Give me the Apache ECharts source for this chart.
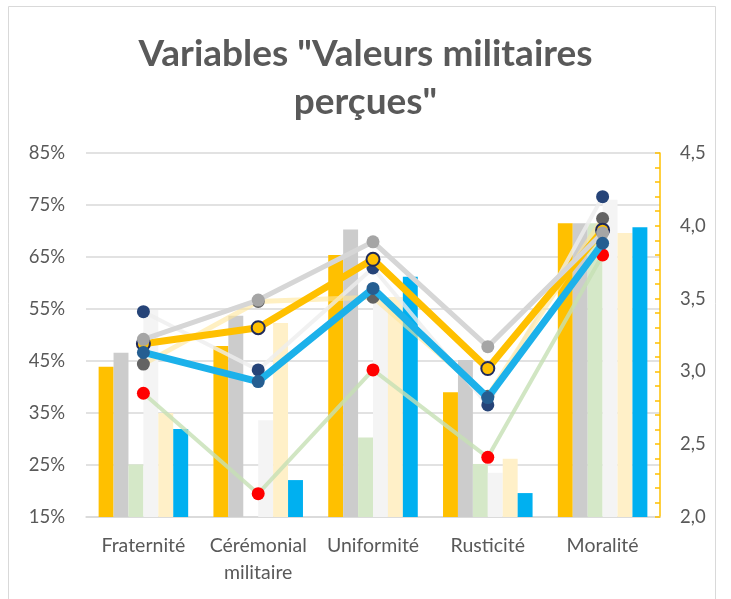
<!DOCTYPE html>
<html>
<head>
<meta charset="utf-8">
<script src="https://cdn.jsdelivr.net/npm/echarts@6/dist/echarts.min.js"></script>
<style>
  html, body { margin: 0; padding: 0; background: #fff; }
  #main { width: 731px; height: 599px; }
</style>
</head>
<body>
<div id="main"></div>
<script>
// categories
var categories = ['Fraternité', 'Cérémonial\nmilitaire', 'Uniformité', 'Rusticité', 'Moralité'];

// bars (left axis, %)
var barGold   = [43.9, 47.9, 65.4, 39.0, 71.5];
var barGray   = [46.6, 53.7, 70.3, 45.2, 71.5];
var barGreen  = [25.1, 14.0, 30.3, 25.2, 71.5];
var barWhite  = [54.8, 33.6, 56.7, 23.5, 76.0];
var barYellow = [35.0, 52.3, 57.3, 26.2, 69.6];
var barBlue   = [31.9, 22.1, 61.2, 19.6, 70.7];

// lines (right axis, mean score)
var lineGold   = [3.19, 3.30, 3.77, 3.02, 3.97];
var lineGray   = [3.22, 3.49, 3.89, 3.17, 3.95];
var lineGreen  = [2.85, 2.16, 3.01, 2.41, 3.80];
var lineWhite  = [3.41, 3.01, 3.71, 2.77, 4.20];
var lineYellow = [3.05, 3.48, 3.51, 2.83, 4.05];
var lineBlue   = [3.13, 2.93, 3.57, 2.82, 3.88];

var leftTicks = { min: 15, max: 85, step: 10 };
var rightTicks = { min: 2, max: 4.5, step: 0.5 };

var myChart = echarts.init(document.getElementById('main'));

function bar(data, color) {
  return {
    type: 'bar', yAxisIndex: 0, data: data,
    barGap: '0%', barCategoryGap: '22%',
    itemStyle: { color: color },
    silent: true
  };
}
function line(data, color, width, opacity, marker, border, z) {
  return {
    type: 'line', yAxisIndex: 1, data: data, z: z,
    symbol: 'circle', symbolSize: 13,
    lineStyle: { color: color, width: width, opacity: opacity },
    itemStyle: { color: marker, borderColor: border, borderWidth: border ? 2 : 0 },
    silent: true
  };
}

var option = {
  animation: false,
  backgroundColor: '#fff',
  textStyle: { fontFamily: 'Lato' },
  title: {
    text: 'Variables "Valeurs militaires\nperçues"',
    left: 'center', top: 25,
    textStyle: { fontFamily: 'Lato', fontWeight: 'bold', fontSize: 37, color: '#595959', lineHeight: 48 }
  },
  graphic: [{
    type: 'rect', shape: { x: 8.5, y: 6.5, width: 707, height: 620 },
    style: { fill: 'none', stroke: '#D9D9D9', lineWidth: 1 }
  }],
  grid: { left: 86, right: 71, top: 153, bottom: 82 },
  xAxis: {
    type: 'category', data: categories,
    axisLine: { lineStyle: { color: '#D9D9D9', width: 1.5 } },
    axisTick: { show: false },
    axisLabel: { color: '#595959', fontSize: 19.5, margin: 15, lineHeight: 27, interval: 0 }
  },
  yAxis: [{
    type: 'value', min: leftTicks.min, max: leftTicks.max, interval: leftTicks.step,
    axisLine: { show: false }, axisTick: { show: false },
    axisLabel: { color: '#595959', fontSize: 18.5, margin: 21, formatter: function (v) { return v + '%'; } },
    splitLine: { lineStyle: { color: '#D9D9D9', width: 1.5 } }
  }, {
    type: 'value', min: rightTicks.min, max: rightTicks.max, interval: rightTicks.step,
    position: 'right',
    axisLine: { show: true, lineStyle: { color: '#FFC000', width: 1.5 } },
    axisTick: { show: true, inside: true, length: 5, lineStyle: { color: '#FFC000', width: 1.5 } },
    minorTick: { show: true, splitNumber: 5, length: 5, lineStyle: { color: '#FFC000', width: 1.5 } },
    axisLabel: { color: '#595959', fontSize: 18.5, margin: 20, formatter: function (v) { return v.toFixed(1).replace('.', ','); } },
    splitLine: { show: false }
  }],
  series: [
    bar(barGold, '#FFC000'),
    bar(barGray, '#CCCCCC'),
    bar(barGreen, '#D5E8C8'),
    bar(barWhite, '#F4F4F4'),
    bar(barYellow, '#FFF0C8'),
    bar(barBlue, '#00B0F0'),
    line(lineWhite, '#EEEEEE', 4, 0.8, '#264478', null, 3),
    line(lineYellow, '#FFE699', 5, 0.6, '#636363', null, 3),
    line(lineGreen, '#C5E0B4', 4, 0.8, '#FF0000', null, 3),
    line(lineGold, '#FFC000', 7, 1, '#FFC000', '#1F2A5A', 4),
    line(lineGray, '#D6D6D6', 5, 1, '#A5A5A5', null, 4),
    line(lineBlue, '#1CB1EA', 7, 1, '#255E91', null, 5)
  ]
};

myChart.setOption(option);
</script>
</body>
</html>
